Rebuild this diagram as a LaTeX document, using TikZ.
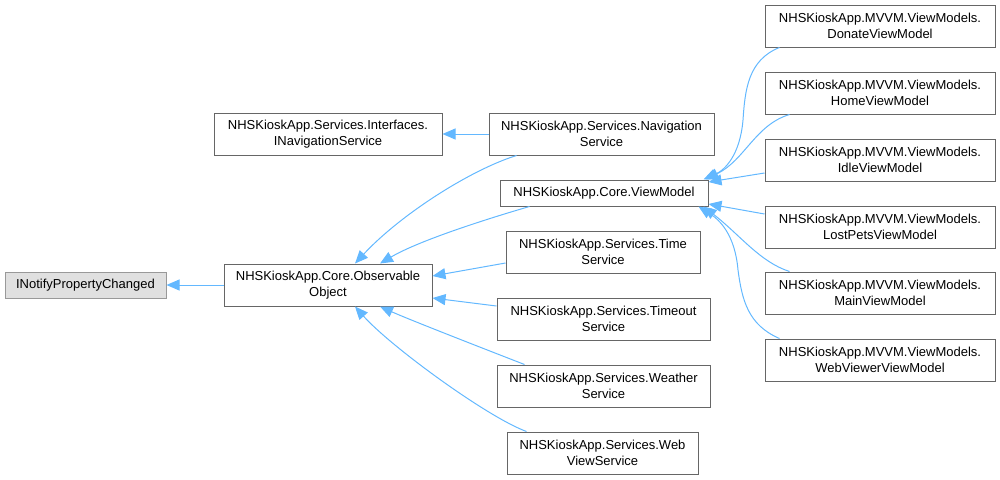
\documentclass[tikz,border=0pt]{standalone}
\usepackage{fontspec}
\setmainfont{Liberation Sans}
\usetikzlibrary{arrows.meta,calc}
\definecolor{edgeblue}{HTML}{63B8FF}
\definecolor{boxgray}{HTML}{666666}
\definecolor{rootgray}{HTML}{999999}
\definecolor{rootfill}{HTML}{E0E0E0}
\begin{document}
\begin{tikzpicture}[x=1pt,y=-1pt,>={Triangle[length=13pt,width=11pt]},
	cls/.style={draw=boxgray,fill=white,line width=1pt,align=center,inner sep=0pt,minimum height=42pt,font=\fontsize{13}{16}\selectfont},
	ext/.style={cls,draw=rootgray,fill=rootfill,minimum height=26pt},
	inh/.style={->,draw=edgeblue,line width=1pt}]
	\useasboundingbox (0,0) rectangle (1000,479);
	% base classes
	\node[ext,minimum width=161pt] (inotify) at (85.5,285) {INotifyPropertyChanged};
	\node[cls,minimum width=208pt] (observable) at (328,285) {NHSKioskApp.Core.Observable\\Object};
	\node[cls,minimum width=228pt] (inavsvc) at (328,134) {NHSKioskApp.Services.Interfaces.\\INavigationService};
	% middle column
	\node[cls,minimum width=225pt] (navsvc) at (601.5,134) {NHSKioskApp.Services.Navigation\\Service};
	\node[cls,minimum width=208pt,minimum height=26pt] (viewmodel) at (604,193) {NHSKioskApp.Core.ViewModel};
	\node[cls,minimum width=194pt] (timesvc) at (603,252) {NHSKioskApp.Services.Time\\Service};
	\node[cls,minimum width=213pt] (timeoutsvc) at (603.5,319) {NHSKioskApp.Services.Timeout\\Service};
	\node[cls,minimum width=213pt] (weathersvc) at (603.5,386) {NHSKioskApp.Services.Weather\\Service};
	\node[cls,minimum width=191pt] (websvc) at (602.5,453) {NHSKioskApp.Services.Web\\ViewService};
	% view models
	\begin{scope}[every node/.append style={cls,minimum width=230pt}]
		\node (donatevm) at (880,26) {NHSKioskApp.MVVM.ViewModels.\\DonateViewModel};
		\node (homevm) at (880,93) {NHSKioskApp.MVVM.ViewModels.\\HomeViewModel};
		\node (idlevm) at (880,160) {NHSKioskApp.MVVM.ViewModels.\\IdleViewModel};
		\node (lostpetsvm) at (880,227) {NHSKioskApp.MVVM.ViewModels.\\LostPetsViewModel};
		\node (mainvm) at (880,293) {NHSKioskApp.MVVM.ViewModels.\\MainViewModel};
		\node (webviewervm) at (880,360) {NHSKioskApp.MVVM.ViewModels.\\WebViewerViewModel};
	\end{scope}
	% inheritance
	\draw[inh] (observable.west) -- (inotify.east);
	\draw[inh] (navsvc.west) -- (inavsvc.east);
	\draw[inh] ($(navsvc.south west)+(28,0)$) .. controls (470,170) and (400,215) .. ($(observable.north)+(27,0)$);
	\draw[inh] ($(viewmodel.south west)+(30,0)$) .. controls (490,218) and (420,240) .. ($(observable.north)+(52,0)$);
	\draw[inh] ($(timesvc.west)+(0,11)$) -- ($(observable.east)+(0,-9)$);
	\draw[inh] ($(timeoutsvc.west)+(0,-13)$) -- ($(observable.east)+(0,13)$);
	\draw[inh] ($(weathersvc.north west)+(28,0)$) .. controls (495,353) and (410,320) .. ($(observable.south)+(52,0)$);
	\draw[inh] ($(websvc.north west)+(20,0)$) .. controls (487,417) and (390,346) .. ($(observable.south)+(27,0)$);
	\draw[inh] ($(donatevm.south west)+(15,0)$) .. controls (748,60) and (745,90) .. (743,120) .. controls (740,155) and (725,170) .. ($(viewmodel.north east)+(-5,0)$);
	\draw[inh] ($(homevm.south west)+(25,0)$) .. controls (755,125) and (745,160) .. ($(viewmodel.north east)+(-3,0)$);
	\draw[inh] ($(idlevm.west)+(0,13)$) -- ($(viewmodel.east)+(0,-11)$);
	\draw[inh] ($(lostpetsvm.west)+(0,-13)$) -- ($(viewmodel.east)+(0,11)$);
	\draw[inh] ($(mainvm.north west)+(25,0)$) .. controls (760,262) and (740,235) .. ($(viewmodel.south east)+(-5,0)$);
	\draw[inh] ($(webviewervm.north west)+(15,0)$) .. controls (748,325) and (742,300) .. (738,270) .. controls (735,235) and (720,220) .. ($(viewmodel.south east)+(-10,0)$);
\end{tikzpicture}
\end{document}
